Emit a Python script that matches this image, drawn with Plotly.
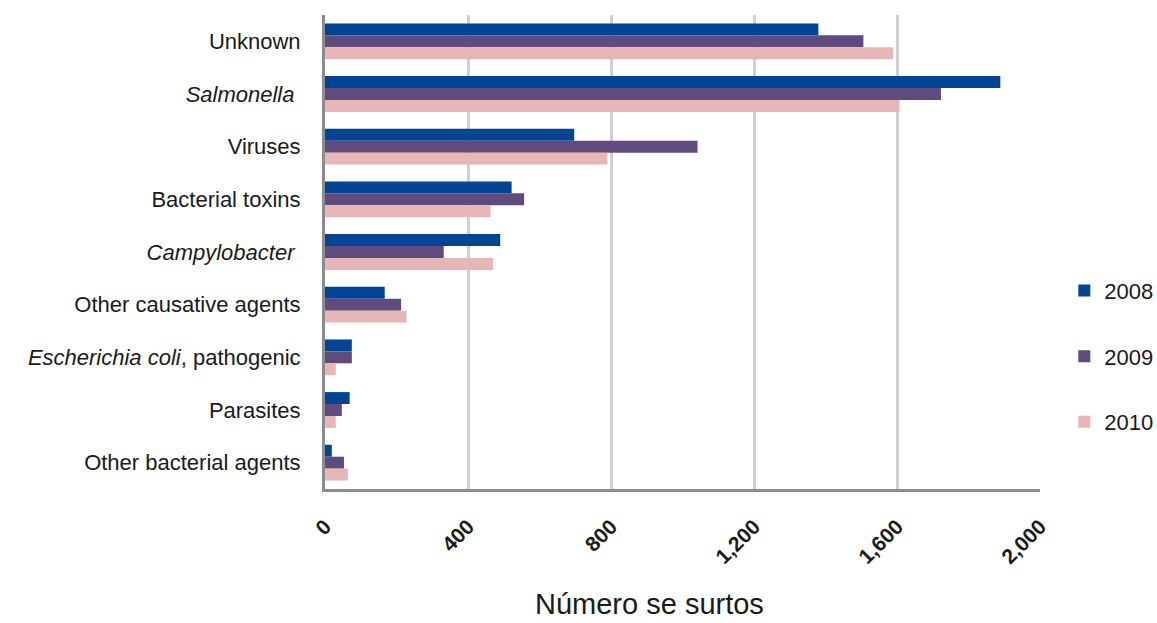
import plotly.graph_objects as go

categories = [
    "Unknown",
    "<i>Salmonella</i>&nbsp;",
    "Viruses",
    "Bacterial toxins",
    "<i>Campylobacter</i>&nbsp;",
    "Other causative agents",
    "<i>Escherichia coli</i>, pathogenic",
    "Parasites",
    "Other bacterial agents",
]
years = ["2008", "2009", "2010"]
values_2008 = [1380, 1889, 697, 522, 490, 167, 75, 69, 19]
values_2009 = [1506, 1723, 1042, 557, 332, 213, 75, 47, 53]
values_2010 = [1589, 1607, 790, 463, 470, 228, 30, 30, 64]
colors = ["#004494", "#5f4b7e", "#e8b6b6"]
x_ticks = [0, 400, 800, 1200, 1600, 2000]
x_ticklabels = ["0", "400", "800", "1,200", "1,600", "2,000"]

fig = go.Figure()
for yr, vals, col in zip(years, [values_2008, values_2009, values_2010], colors):
    fig.add_trace(go.Bar(
        y=categories, x=vals, name=yr, orientation="h",
        marker=dict(color=col, line=dict(width=0)),
        legendgroup=yr,
    ))

fig.update_layout(
    width=1157, height=623,
    margin=dict(l=325, r=117, t=15, b=134, autoexpand=False),
    paper_bgcolor="white", plot_bgcolor="white",
    barmode="group", bargap=0.32, bargroupgap=0,
    font=dict(family="Liberation Sans, Arial, sans-serif", size=22, color="#1a1a1a"),
    showlegend=True,
    legend=dict(x=1.034, xanchor="left", y=0.28, yanchor="middle",
                traceorder="grouped", tracegroupgap=34,
                font=dict(size=22, color="#1a1a1a"),
                itemwidth=30, bgcolor="rgba(0,0,0,0)"),
    xaxis=dict(
        range=[0, 2000], tickvals=x_ticks, ticktext=x_ticklabels,
        tickangle=-45, ticks="", ticklabelstandoff=14,
        tickfont=dict(family="Liberation Sans, Arial, sans-serif", size=21, weight="bold", color="#1a1a1a"),
        showgrid=True, gridcolor="#d0d0d0", gridwidth=2.5,
        showline=True, linecolor="#8c8c8c", linewidth=3,
        zeroline=False, fixedrange=True, automargin=False,
    ),
    yaxis=dict(
        autorange="reversed", ticks="", ticklabelstandoff=17,
        tickfont=dict(size=22, color="#1a1a1a"),
        showgrid=False, showline=True, linecolor="#8c8c8c", linewidth=3,
        zeroline=False, fixedrange=True, automargin=False,
    ),
    annotations=[dict(
        text="Número se surtos", xref="paper", yref="paper",
        x=0.4545, y=-0.242, xanchor="center", yanchor="middle",
        showarrow=False, font=dict(size=29, color="#1a1a1a"),
    )],
)

fig.write_html("out.html")
